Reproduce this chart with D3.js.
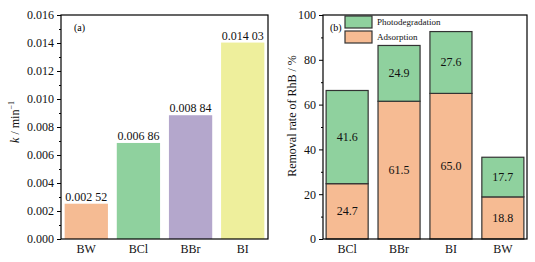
<!DOCTYPE html>
<html>
<head>
<meta charset="utf-8">
<script src="https://cdn.jsdelivr.net/npm/d3@7"></script>
<style>
  body { margin: 0; background: #fff; }
  text { font-family: "Liberation Serif", "DejaVu Serif", serif; }
</style>
</head>
<body>
<svg id="chart" width="535" height="262"></svg>
<script>
// panel (a)
let rateCats = ["BW", "BCl", "BBr", "BI"];
let rateVals = [0.00252, 0.00686, 0.00884, 0.01403];
let rateLabels = ["0.002 52", "0.006 86", "0.008 84", "0.014 03"];
let rateColors = ["#f5bb93", "#8fd19e", "#b4a7cc", "#eeef9c"];
let rateTicks = [0, 0.002, 0.004, 0.006, 0.008, 0.010, 0.012, 0.014, 0.016];

// panel (b)
let remCats = ["BCl", "BBr", "BI", "BW"];
let adsorption = [24.7, 61.5, 65.0, 18.8];
let photodeg = [41.6, 24.9, 27.6, 17.7];
let remTicks = [0, 20, 40, 60, 80, 100];

let serif = "Liberation Serif";
let svg = d3.select("#chart").attr("font-family", serif);

let axisBox = (g, x0, x1, y0, y1) => {
    g.append("rect")
        .attr("x", x0).attr("y", y0)
        .attr("width", x1 - x0).attr("height", y1 - y0)
        .attr("fill", "none").attr("stroke", "#000").attr("stroke-width", 1.2);
};

let yAxis = (g, y, x0, ticks, minor, fmt) => {
    let ax = g.append("g").attr("transform", "translate(" + x0 + ",0)");
    ax.call(d3.axisLeft(y).tickValues(ticks).tickSize(4).tickSizeOuter(0).tickFormat(fmt));
    ax.attr("font-family", serif);
    ax.select(".domain").remove();
    ax.selectAll("text").attr("font-size", 12).attr("fill", "#111");
    ax.selectAll("line").attr("stroke", "#000");
    let minorAx = g.append("g").attr("transform", "translate(" + x0 + ",0)");
    minorAx.call(d3.axisLeft(y).tickValues(minor).tickSize(2).tickFormat(""));
    minorAx.select(".domain").remove();
};

// ----- panel (a)
let a = {x0: 61, x1: 268, y0: 15, y1: 239};
let xa = d3.scaleBand().domain(rateCats).range([a.x0, a.x1]).paddingInner(0.17).paddingOuter(0.07);
let ya = d3.scaleLinear().domain([0, 0.016]).range([a.y1, a.y0]);
let ga = svg.append("g");

ga.selectAll("rect.bar")
    .data(rateVals)
    .enter()
    .append("rect")
    .attr("class", "bar")
    .attr("x", (d, i) => xa(rateCats[i]))
    .attr("y", (d) => ya(d))
    .attr("width", xa.bandwidth())
    .attr("height", (d) => a.y1 - ya(d))
    .attr("fill", (d, i) => rateColors[i]);

ga.selectAll("text.val")
    .data(rateVals)
    .enter()
    .append("text")
    .attr("x", (d, i) => xa(rateCats[i]) + xa.bandwidth() / 2)
    .attr("y", (d) => ya(d) - 3)
    .attr("text-anchor", "middle")
    .attr("font-size", 12)
    .attr("fill", "#111")
    .text((d, i) => rateLabels[i]);

yAxis(ga, ya, a.x0, rateTicks, d3.range(0.001, 0.016, 0.002), d3.format(".3f"));
axisBox(ga, a.x0, a.x1, a.y0, a.y1);

ga.selectAll("text.cat")
    .data(rateCats)
    .enter()
    .append("text")
    .attr("x", (d) => xa(d) + xa.bandwidth() / 2)
    .attr("y", 253)
    .attr("text-anchor", "middle")
    .attr("font-size", 12)
    .attr("fill", "#111")
    .text((d) => d);

ga.append("text").attr("x", 74).attr("y", 31).attr("font-size", 10).text("(a)");

let la = ga.append("text")
    .attr("transform", "translate(19,122) rotate(-90)")
    .attr("text-anchor", "middle")
    .attr("font-size", 12)
    .attr("fill", "#111");
la.append("tspan").attr("font-style", "italic").text("k");
la.append("tspan").text(" / min");
la.append("tspan").attr("font-size", 8).attr("dy", -5).text("−1");

// ----- panel (b)
let b = {x0: 323, x1: 527, y0: 15, y1: 239};
let xb = d3.scaleBand().domain(remCats).range([b.x0, b.x1]).paddingInner(0.19).paddingOuter(0.06);
let yb = d3.scaleLinear().domain([0, 100]).range([b.y1, b.y0]);
let gb = svg.append("g");

let stackData = remCats.map((c, i) => ({cat: c, ads: adsorption[i], pho: photodeg[i]}));
let series = d3.stack().keys(["ads", "pho"])(stackData);
let segColors = {ads: "#f6bb93", pho: "#8fd19e"};

series.forEach((s) => {
    let sg = gb.append("g");
    sg.selectAll("rect")
        .data(s)
        .enter()
        .append("rect")
        .attr("x", (d) => xb(d.data.cat))
        .attr("y", (d) => yb(d[1]))
        .attr("width", xb.bandwidth())
        .attr("height", (d) => yb(d[0]) - yb(d[1]))
        .attr("fill", segColors[s.key])
        .attr("stroke", "#333")
        .attr("stroke-width", 1.2);
    sg.selectAll("text")
        .data(s)
        .enter()
        .append("text")
        .attr("x", (d) => xb(d.data.cat) + xb.bandwidth() / 2)
        .attr("y", (d) => yb((d[0] + d[1]) / 2) + 4)
        .attr("text-anchor", "middle")
        .attr("font-size", 12)
        .attr("fill", "#111")
        .text((d) => (d[1] - d[0]).toFixed(1));
});

yAxis(gb, yb, b.x0, remTicks, d3.range(10, 100, 20), d3.format("d"));
axisBox(gb, b.x0, b.x1, b.y0, b.y1);

gb.selectAll("text.cat")
    .data(remCats)
    .enter()
    .append("text")
    .attr("x", (d) => xb(d) + xb.bandwidth() / 2)
    .attr("y", 253)
    .attr("text-anchor", "middle")
    .attr("font-size", 12)
    .attr("fill", "#111")
    .text((d) => d);

gb.append("text").attr("x", 330).attr("y", 31).attr("font-size", 10).text("(b)");

let legendItems = [["Photodegradation", segColors.pho], ["Adsorption", segColors.ads]];
legendItems.forEach((it, i) => {
    gb.append("rect")
        .attr("x", 345).attr("y", 16 + i * 15)
        .attr("width", 27).attr("height", 12)
        .attr("fill", it[1]).attr("stroke", "#333").attr("stroke-width", 1.2);
    gb.append("text")
        .attr("x", 377).attr("y", 25 + i * 15)
        .attr("font-size", 9)
        .attr("fill", "#111")
        .text(it[0]);
});

gb.append("text")
    .attr("transform", "translate(296,116) rotate(-90)")
    .attr("text-anchor", "middle")
    .attr("font-size", 12)
    .attr("fill", "#111")
    .text("Removal rate of RhB / %");
</script>
</body>
</html>
